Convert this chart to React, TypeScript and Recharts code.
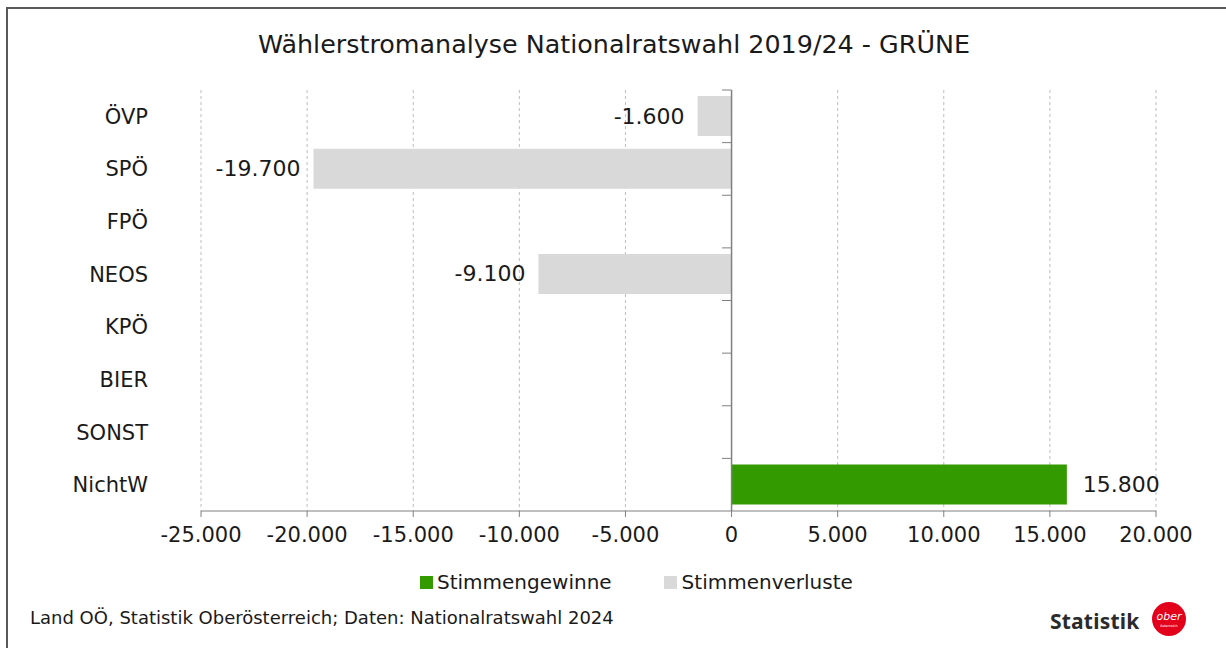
import React from 'react';
import { BarChart, Bar, XAxis, YAxis, CartesianGrid, ReferenceLine, LabelList } from 'recharts';

const CATEGORIES = ['ÖVP', 'SPÖ', 'FPÖ', 'NEOS', 'KPÖ', 'BIER', 'SONST', 'NichtW'];
const GAINS = [0, 0, 0, 0, 0, 0, 0, 15800];
const LOSSES = [-1600, -19700, 0, -9100, 0, 0, 0, 0];
const X_TICKS = [-25000, -20000, -15000, -10000, -5000, 0, 5000, 10000, 15000, 20000];

const GREEN = '#339a00';
const GREY = '#d9d9d9';
const FONT = '"DejaVu Sans", sans-serif';

const W = 1226;
const H = 648;
const MARGIN = { top: 90, right: 70, bottom: 97, left: 0 };
const X_AXIS_H = 40;
// half of one category band, used to put the small ticks between categories
const HALF_BAND = (H - MARGIN.top - MARGIN.bottom - X_AXIS_H) / CATEGORIES.length / 2;

const fmt = (v: number) => {
  const s = Math.abs(v).toString().replace(/\B(?=(\d{3})+(?!\d))/g, '.');
  return v < 0 ? '-' + s : s;
};

const data = CATEGORIES.map((c, i) => ({ name: c, gain: GAINS[i], loss: LOSSES[i] }));

const ValueLabel = (props: any) => {
  const { x, y, width, height, value } = props;
  if (!value) return null;
  const neg = value < 0;
  // for negative bars recharts gives x at zero with negative width
  const end = neg ? Math.min(x, x + width) : Math.max(x, x + width);
  return (
    <text
      x={neg ? end - 13 : end + 16}
      y={y + height / 2}
      textAnchor={neg ? 'end' : 'start'}
      dominantBaseline="central"
      fontSize={22}
      fontFamily={FONT}
      fill="#1a1a1a"
    >
      {fmt(value)}
    </text>
  );
};

const BoundaryTick = (p: any) => (
  <line x1={p.x1} y1={p.y1 - HALF_BAND} x2={p.x2} y2={p.y2 - HALF_BAND} stroke="#808080" strokeWidth={1} />
);

const Legend = () => (
  <div style={{ position: 'absolute', top: 570, left: 420, display: 'flex', alignItems: 'center', fontFamily: FONT, fontSize: 20, color: '#1a1a1a' }}>
    <span style={{ width: 13, height: 13, background: GREEN, display: 'inline-block', marginRight: 4 }} />
    <span style={{ marginRight: 52 }}>Stimmengewinne</span>
    <span style={{ width: 13, height: 13, background: GREY, display: 'inline-block', marginRight: 5 }} />
    <span>Stimmenverluste</span>
  </div>
);

const Logo = () => (
  <div style={{ position: 'absolute', left: 1050, top: 601, display: 'flex', alignItems: 'center' }}>
    <span style={{ fontFamily: '"Noto Sans", sans-serif', fontWeight: 700, fontSize: 21, color: '#2b2b2b', letterSpacing: 0.2 }}>Statistik</span>
    <svg width={40} height={40} style={{ marginLeft: 10 }}>
      <circle cx={20} cy={18} r={17} fill="#e2001a" />
      <text x={20} y={19} textAnchor="middle" fill="#fff" fontSize={11} fontStyle="italic" fontFamily={FONT}>ober</text>
      <text x={20} y={26} textAnchor="middle" fill="#fff" fontSize={3.5} fontFamily={FONT}>österreich</text>
    </svg>
  </div>
);

export default function App() {
  return (
    <div style={{ position: 'fixed', top: 0, left: 0, width: W, height: H, overflow: 'hidden', background: '#fff' }}>
      <div style={{ position: 'absolute', left: 6, top: 7, width: 1240, height: 680, borderLeft: '2px solid #595959', borderTop: '2px solid #595959' }} />
      <div style={{ position: 'absolute', top: 29, left: 0, width: 1228, textAlign: 'center', fontFamily: FONT, fontSize: 25.4, color: '#1a1a1a' }}>
        Wählerstromanalyse Nationalratswahl 2019/24 - GRÜNE
      </div>
      <div style={{ position: 'absolute', left: 0, top: 0 }}>
        <BarChart width={W} height={H} data={data} layout="vertical" margin={MARGIN} barSize={40}>
          <CartesianGrid horizontal={false} strokeDasharray="3 3" stroke="#bdbdbd" />
          <XAxis
            type="number"
            domain={[-25000, 20000]}
            ticks={X_TICKS}
            tickFormatter={fmt}
            height={X_AXIS_H}
            stroke="#808080"
            tickSize={6}
            tickMargin={10}
            tick={{ fontSize: 21, fontFamily: FONT, fill: '#1a1a1a' }}
            interval={0}
          />
          <YAxis
            type="category"
            dataKey="name"
            width={201}
            axisLine={false}
            tickLine={false}
            tickSize={0}
            tickMargin={53}
            tick={{ fontSize: 21, fontFamily: FONT, fill: '#1a1a1a' }}
            interval={0}
          />
          <Bar dataKey="gain" stackId="a" fill={GREEN} isAnimationActive={false}>
            <LabelList dataKey="gain" content={ValueLabel} />
          </Bar>
          <Bar dataKey="loss" stackId="a" fill={GREY} isAnimationActive={false}>
            <LabelList dataKey="loss" content={ValueLabel} />
          </Bar>
          <ReferenceLine x={0} stroke="#808080" strokeWidth={1.5} />
          {CATEGORIES.map((c) => (
            <ReferenceLine
              key={c}
              segment={[{ x: -450, y: c }, { x: 0, y: c }]}
              shape={BoundaryTick}
              ifOverflow="visible"
            />
          ))}
        </BarChart>
      </div>
      <Legend />
      <div style={{ position: 'absolute', left: 30, top: 607, fontFamily: FONT, fontSize: 18, color: '#1a1a1a' }}>
        Land OÖ, Statistik Oberösterreich; Daten: Nationalratswahl 2024
      </div>
      <Logo />
    </div>
  );
}
